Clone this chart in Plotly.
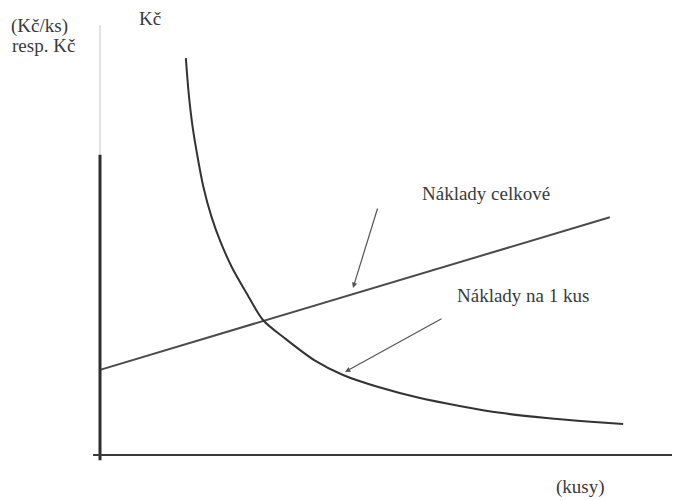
import plotly.graph_objects as go

# Data (quantity on x, cost on y, arbitrary units)
total_cost_x = [0.0, 8.79]
total_cost_y = [1.98, 5.53]

unit_cost_x = [1.48, 1.53, 1.60, 1.68, 1.78, 1.92, 2.08, 2.28, 2.52, 2.81, 3.20, 3.70,
               4.19, 4.80, 5.50, 6.20, 6.90, 7.70, 8.40, 9.02]
unit_cost_y = [9.23, 8.40, 7.60, 6.95, 6.25, 5.55, 4.95, 4.35, 3.78, 3.14, 2.70, 2.20,
               1.86, 1.58, 1.33, 1.14, 0.98, 0.86, 0.78, 0.72]

label_total = "Náklady celkové"
label_unit = "Náklady na 1 kus"
y_title_1 = "(Kč/ks)"
y_title_2 = "resp. Kč"
curve_unit = "Kč"
x_title = "(kusy)"

FONT = "Liberation Serif, Times New Roman, serif"
TXT = "#3a3a3a"

fig = go.Figure()
fig.add_trace(go.Scatter(x=total_cost_x, y=total_cost_y, mode="lines",
                         line=dict(color="#4a4a4a", width=2), hoverinfo="skip"))
fig.add_trace(go.Scatter(x=unit_cost_x, y=unit_cost_y, mode="lines",
                         line=dict(color="#333333", width=2, shape="spline", smoothing=0.8),
                         hoverinfo="skip"))

shapes = [
    # faint upper part of y axis
    dict(type="line", xref="x", yref="y", x0=0, x1=0, y0=6.98, y1=10.0,
         line=dict(color="#c4c4c4", width=1)),
    # dark y axis
    dict(type="line", xref="x", yref="y", x0=0, x1=0, y0=-0.12, y1=6.98,
         line=dict(color="#2e2e2e", width=3)),
    # x axis
    dict(type="line", xref="x", yref="y", x0=-0.12, x1=10.2, y0=0, y1=0,
         line=dict(color="#3a3a3a", width=2)),
]

annotations = [
    dict(x=-1.57, y=9.98, text=y_title_1, xanchor="left", yanchor="middle", showarrow=False),
    dict(x=-1.55, y=9.53, text=y_title_2, xanchor="left", yanchor="middle", showarrow=False),
    dict(x=0.862, y=10.15, text=curve_unit, xanchor="center", yanchor="middle", showarrow=False),
    dict(x=5.517, y=6.07, text=label_total, xanchor="left", yanchor="middle", showarrow=False),
    dict(x=6.121, y=3.698, text=label_unit, xanchor="left", yanchor="middle", showarrow=False),
    dict(x=8.276, y=-0.744, text=x_title, xanchor="center", yanchor="middle", showarrow=False),
    # arrows
    dict(x=4.362, y=3.884, ax=4.793, ay=5.767, axref="x", ayref="y", text="",
         showarrow=True, arrowhead=2, arrowsize=0.9, arrowwidth=1.2, arrowcolor="#555555"),
    dict(x=4.224, y=1.93, ax=5.914, ay=3.186, axref="x", ayref="y", text="",
         showarrow=True, arrowhead=2, arrowsize=0.9, arrowwidth=1.2, arrowcolor="#555555"),
]
for a in annotations:
    if a.get("text"):
        a["font"] = dict(family=FONT, size=19, color=TXT)

# the page adds an 8 px body margin, so axis ranges are offset to compensate
fig.update_layout(
    width=680, height=500,
    margin=dict(l=0, r=0, t=0, b=0),
    paper_bgcolor="white", plot_bgcolor="white",
    showlegend=False,
    xaxis=dict(range=[-92 / 58, 588 / 58], visible=False, fixedrange=True),
    yaxis=dict(range=[-53 / 43, 447 / 43], visible=False, fixedrange=True),
    shapes=shapes,
    annotations=annotations,
)

fig.write_html("out.html")
